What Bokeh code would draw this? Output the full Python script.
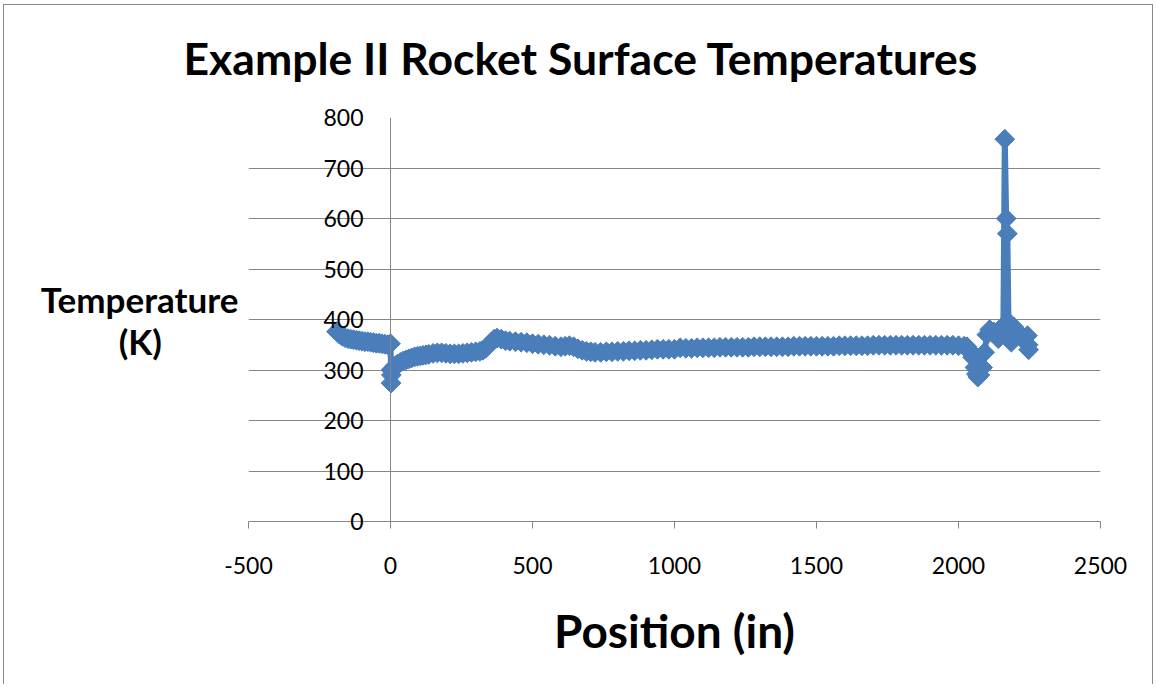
from bokeh.plotting import figure
from bokeh.models import Range1d, FixedTicker, ColumnDataSource, Span, Title
from bokeh.embed import file_html
from bokeh.resources import INLINE

TITLE = "Example II Rocket Surface Temperatures"
X_LABEL = "Position (in)"
Y_LABEL_LINES = ["Temperature", "(K)"]

x_ticks = [-500, 0, 500, 1000, 1500, 2000, 2500]
x_tick_labels = ["-500", "0", "500", "1000", "1500", "2000", "2500"]
y_ticks = [0, 100, 200, 300, 400, 500, 600, 700, 800]
y_tick_labels = ["0", "100", "200", "300", "400", "500", "600", "700", "800"]

# Position (in) values
position_nose = [-190, -180, -170, -160, -150, -140, -130, -120, -110, -100,
                 -90, -80, -70, -60, -50, -40, -30, -20, -10, 0, 2, 3, 2]
temp_nose = [376, 371, 367, 364, 362, 361, 360, 359, 358, 357,
             356, 356, 355, 354, 353, 353, 352, 351, 350, 352, 300, 290, 274]

position_front = [8, 15, 25, 35, 45, 55, 65, 75, 85, 95, 105, 115, 125, 135, 150,
                  165, 180, 195, 210, 225, 240, 255, 270, 285, 300, 315, 325, 335,
                  345, 355, 365, 375]
temp_front = [302, 308, 312, 315, 318, 320, 322, 324, 326, 327, 328, 329, 330, 331, 333,
              334, 334, 333, 332, 332, 332, 333, 334, 335, 336, 337, 339, 343,
              349, 355, 361, 363]

position_mid = [390, 405, 420, 440, 460, 480, 500, 520, 540, 560, 580, 600, 615, 630,
                645, 660, 675, 690, 705, 720, 740, 760, 780, 800, 820, 840, 860, 880,
                900, 920, 940, 960, 980, 1000, 1020]
temp_mid = [361, 358, 357, 356, 355, 354, 352, 351, 350, 349, 347, 346, 347, 348,
            346, 342, 339, 337, 336, 335, 335, 336, 336, 337, 337, 338, 338, 339,
            339, 340, 341, 341, 341, 341, 344]

position_body = [1040, 1060, 1080, 1100, 1120, 1140, 1160, 1180, 1200, 1220, 1240, 1260,
                 1280, 1300, 1320, 1340, 1360, 1380, 1400, 1420, 1440, 1460, 1480, 1500,
                 1520, 1540, 1560, 1580, 1600, 1620, 1640, 1660, 1680, 1700, 1720, 1740,
                 1760, 1780, 1800, 1820, 1840, 1860, 1880, 1900, 1920, 1940, 1960, 1980,
                 2000, 2020]
temp_body = [343, 343, 344, 344, 344, 344, 345, 345, 345, 345, 345, 345,
             346, 346, 346, 346, 346, 346, 346, 347, 347, 347, 347, 347,
             347, 347, 347, 348, 348, 348, 348, 348, 348, 349, 349, 349,
             349, 349, 349, 349, 349, 349, 349, 349, 349, 349, 349, 349,
             348, 347]

position_tail = [2030, 2040, 2050, 2058, 2063, 2068, 2075, 2085, 2092, 2100, 2110, 2125,
                 2140, 2150, 2158, 2163, 2168, 2172, 2176, 2180, 2186, 2195, 2215, 2243,
                 2245, 2247]
temp_tail = [346, 338, 325, 305, 292, 286, 290, 305, 335, 370, 380, 375,
             362, 375, 388, 757, 600, 570, 395, 375, 355, 385, 372, 368,
             350, 340]

position = position_nose + position_front + position_mid + position_body + position_tail
temperature = temp_nose + temp_front + temp_mid + temp_body + temp_tail

SERIES_COLOR = "#4A7EBB"
AXIS_COLOR = "#868686"

source = ColumnDataSource(data=dict(x=position, y=temperature))

p = figure(width=1150, height=680, output_backend="svg", toolbar_location=None,
           x_range=Range1d(x_ticks[0], x_ticks[-1]), y_range=Range1d(y_ticks[0], y_ticks[-1]),
           min_border_left=244, min_border_right=54, min_border_top=112, min_border_bottom=164,
           background_fill_color="white", border_fill_color="white")
p.styles = {"border-left": "1px solid #898989", "border-top": "1px solid #898989",
            "border-right": "1px solid #898989", "margin-left": "3px", "margin-top": "4px"}
p.outline_line_color = None

# title
p.title.text = TITLE
p.title.text_font = "Lato"
p.title.text_font_style = "bold"
p.title.text_font_size = "44.5px"
p.title.text_color = "black"
p.title.align = "left"
p.title.offset = -65
p.title.vertical_align = "middle"
p.title.standoff = 44
# thin blank spacer between the title and the plot area
p.add_layout(Title(text=" ", text_font_size="1px", standoff=8), "above")

# grid
p.xgrid.visible = False
p.ygrid.ticker = FixedTicker(ticks=y_ticks)
p.ygrid.grid_line_color = AXIS_COLOR
p.ygrid.grid_line_width = 1

# x axis
xa = p.xaxis[0]
xa.ticker = FixedTicker(ticks=x_ticks)
xa.major_label_overrides = {t: s for t, s in zip(x_ticks, x_tick_labels)}
xa.axis_line_color = AXIS_COLOR
xa.major_tick_line_color = AXIS_COLOR
xa.major_tick_out = 7
xa.major_tick_in = 0
xa.minor_tick_line_color = None
xa.major_label_text_font = "Lato"
xa.major_label_text_font_size = "23px"
xa.major_label_text_color = "black"
xa.major_label_standoff = 28
xa.axis_label = X_LABEL
xa.axis_label_text_font = "Lato"
xa.axis_label_text_font_style = "bold"
xa.axis_label_text_font_size = "46px"
xa.axis_label_text_color = "black"
xa.axis_label_standoff = 26

# y axis: labels placed next to the vertical line at x = 0
ya = p.yaxis[0]
ya.ticker = FixedTicker(ticks=y_ticks)
ya.major_label_overrides = {t: s for t, s in zip(y_ticks, y_tick_labels)}
ya.axis_line_color = None
ya.major_tick_line_color = None
ya.major_tick_out = 0
ya.major_tick_in = 0
ya.minor_tick_line_color = None
ya.major_label_text_font = "Lato"
ya.major_label_text_font_size = "23px"
ya.major_label_text_color = "black"
ya.major_label_standoff = -115
# second line padded so that it sits centred under the first (label is right-anchored)
ya.axis_label = Y_LABEL_LINES[0] + "\n" + Y_LABEL_LINES[1] + " " * 9
ya.axis_label_orientation = "horizontal"
ya.axis_label_text_font = "Lato"
ya.axis_label_text_font_style = "bold"
ya.axis_label_text_font_size = "35px"
ya.axis_label_text_line_height = 1.0
ya.axis_label_text_color = "black"
ya.axis_label_standoff = 82

p.add_layout(Span(location=0, dimension="height", line_color=AXIS_COLOR, line_width=1))

# data
p.line("x", "y", source=source, line_color=SERIES_COLOR, line_width=6)
p.scatter("x", "y", source=source, marker="square", size=14, angle=0.785398,
          fill_color=SERIES_COLOR, line_color=SERIES_COLOR, line_width=1)

open("out.html", "w").write(file_html(p, INLINE))
